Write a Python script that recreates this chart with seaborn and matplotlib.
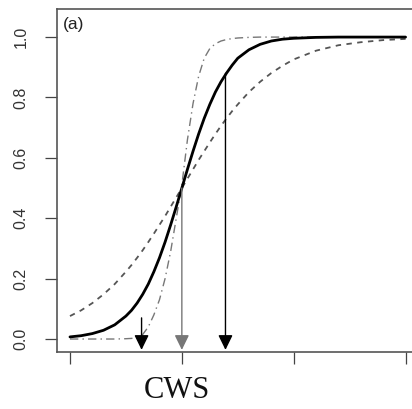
import pandas as pd
import matplotlib
matplotlib.use('Agg')
import matplotlib.pyplot as plt
import seaborn as sns

# values
cws = [0, 0.1, 0.2, 0.3, 0.4, 0.5, 0.55, 0.6, 0.65, 0.7, 0.75, 0.8, 0.85, 0.9, 0.95, 1.0,
       1.05, 1.1, 1.15, 1.2, 1.25, 1.3, 1.35, 1.4, 1.45, 1.5, 1.6, 1.7, 1.8, 1.9, 2.0,
       2.2, 2.4, 2.6, 2.8, 3.0]
p_solid = [0.007, 0.011, 0.018, 0.029, 0.047, 0.076, 0.095, 0.119, 0.148, 0.182, 0.223, 0.269,
           0.321, 0.378, 0.438, 0.5, 0.562, 0.622, 0.679, 0.731, 0.777, 0.818, 0.852, 0.881,
           0.907, 0.93, 0.958, 0.976, 0.987, 0.993, 0.996, 0.999, 1.0, 1.0, 1.0, 1.0]
p_dashed = [0.076, 0.095, 0.119, 0.148, 0.182, 0.223, 0.245, 0.269, 0.294, 0.321, 0.349, 0.378,
            0.407, 0.438, 0.469, 0.5, 0.531, 0.562, 0.593, 0.622, 0.651, 0.679, 0.706, 0.731,
            0.755, 0.777, 0.818, 0.852, 0.881, 0.905, 0.926, 0.955, 0.973, 0.983, 0.99, 0.994]
p_dashdot = [0.0, 0.0, 0.0, 0.0, 0.0, 0.001, 0.002, 0.005, 0.015, 0.04, 0.08, 0.13,
             0.2, 0.29, 0.4, 0.51, 0.66, 0.78, 0.87, 0.93, 0.962, 0.978, 0.987, 0.992,
             0.995, 0.997, 0.999, 1.0, 1.0, 1.0, 1.0, 1.0, 1.0, 1.0, 1.0, 1.0]

arrow_x = [0.64, 1.0, 1.39]
arrow_top = [0.07, 0.5, 0.88]
arrow_colors = ['black', '#777777', 'black']
x_ticks = [0, 1, 2, 3]
y_ticks = [0.0, 0.2, 0.4, 0.6, 0.8, 1.0]
y_labels = ['0.0', '0.2', '0.4', '0.6', '0.8', '1.0']

df = pd.DataFrame({'cws': cws, 'solid': p_solid, 'dashed': p_dashed, 'dashdot': p_dashdot})

sns.set_style('white')
plt.rcParams['font.family'] = ['Liberation Sans', 'DejaVu Sans']

W, H = 412, 409
fig = plt.figure(figsize=(W / 100, H / 100), dpi=100)
ax = fig.add_axes([57 / W, (H - 352) / H, (419 - 57) / W, (352 - 9) / H])

sns.lineplot(data=df, x='cws', y='dashdot', ax=ax, color='#777777', lw=1.0,
             linestyle=(0, (6, 3, 1, 3)))
sns.lineplot(data=df, x='cws', y='dashed', ax=ax, color='#555555', lw=1.3,
             linestyle=(0, (3, 3)))
sns.lineplot(data=df, x='cws', y='solid', ax=ax, color='black', lw=2.0)

for x, top, c in zip(arrow_x, arrow_top, arrow_colors):
    ax.annotate('', xy=(x, -0.036), xytext=(x, top),
                arrowprops=dict(arrowstyle='-|>,head_length=0.45,head_width=0.22',
                                mutation_scale=20, color=c, lw=1.0,
                                shrinkA=0, shrinkB=0))

ax.set_xlim(-0.116, 3.12)
ax.set_ylim(-0.043, 1.093)
ax.set_xticks(x_ticks)
ax.set_xticklabels([])
ax.set_yticks(y_ticks)
ax.set_yticklabels(y_labels, rotation=90, va='center', fontsize=11.5, color='#333333')
ax.tick_params(axis='both', bottom=True, left=True, length=8.5, width=0.9,
               color='#444444', direction='out')
ax.tick_params(axis='y', pad=12)
for s in ax.spines.values():
    s.set_color('#555555')
    s.set_linewidth(1.2)

ax.set_xlabel('')
ax.set_ylabel('')
ax.text(6 / 362, 1 - 8 / 343, '(a)', transform=ax.transAxes, fontsize=12.5, va='top',
        ha='left', color='#222222')
fig.text(177 / W, 1 - 391 / H, 'CWS', family='Liberation Serif', fontsize=22,
         ha='center', va='center', color='#111111')

fig.savefig('out.png', dpi=100)
